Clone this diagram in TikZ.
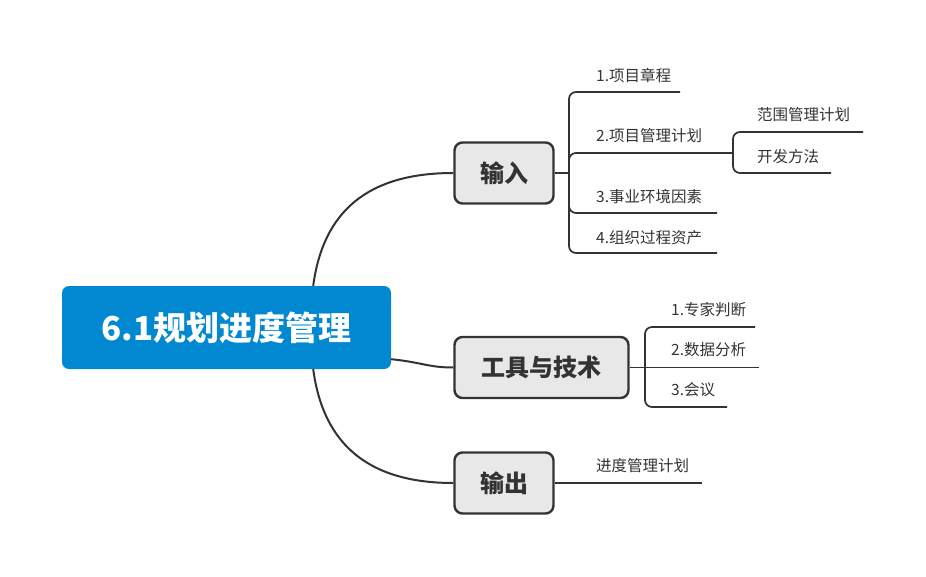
\documentclass[tikz,border=0pt]{standalone}
\usepackage{fontspec}
\setmainfont{Noto Sans CJK SC}
\usetikzlibrary{calc}
\definecolor{rootblue}{RGB}{2,136,209}
\definecolor{linec}{RGB}{51,51,51}
\definecolor{boxfill}{RGB}{232,232,232}
\definecolor{txt}{RGB}{51,51,51}
\begin{document}
\begin{tikzpicture}[x=1pt,y=-1pt,
  conn/.style={draw=linec, line width=2pt},
  leafline/.style={draw=linec, line width=1.7pt, rounded corners=7pt},
  rootbox/.style={fill=rootblue, rounded corners=7pt, minimum width=329pt, minimum height=83pt, inner sep=0pt, text=white, font=\fontsize{33}{36}\selectfont\bfseries},
  branch/.style={draw=linec, line width=2.4pt, fill=boxfill, rounded corners=8pt, minimum height=61pt, inner sep=0pt, text=txt, font=\fontsize{24}{28}\selectfont\bfseries},
  leaf/.style={anchor=west, inner sep=0pt, text=txt, font=\fontsize{15.5}{18}\selectfont}
]
\useasboundingbox (0,0) rectangle (926,576);

% nodes
\node[rootbox] (root) at (226.5,327.5) {6.1规划进度管理};
\node[branch, minimum width=99pt] (in) at (504,173) {输入};
\node[branch, minimum width=174pt] (tools) at (541.5,367.5) {工具与技术};
\node[branch, minimum width=99pt] (out) at (504,483) {输出};

% leaf texts
\node[leaf] (i1) at (596,75) {1.项目章程};
\node[leaf] (i2) at (596,136) {2.项目管理计划};
\node[leaf] (i2a) at (757,115) {范围管理计划};
\node[leaf] (i2b) at (757,157) {开发方法};
\node[leaf] (i3) at (596,197) {3.事业环境因素};
\node[leaf] (i4) at (596,238) {4.组织过程资产};
\node[leaf] (t1) at (671,310) {1.专家判断};
\node[leaf] (t2) at (671,350) {2.数据分析};
\node[leaf] (t3) at (671,390) {3.会议};
\node[leaf] (o1) at (596,466) {进度管理计划};

% junction and end coordinates
\coordinate (jin) at (569,173);
\coordinate (ji2) at (733,153);
\coordinate (jt) at (645,367.5);
\coordinate (ei1) at (680,92);
\coordinate (ei2a) at (863,132);
\coordinate (ei2b) at (831,173);
\coordinate (ei3) at (717,213);
\coordinate (ei4) at (717,253);
\coordinate (et1) at (755,327);
\coordinate (et2) at (759,367.5);
\coordinate (et3) at (727,407);
\coordinate (eo1) at (702,483);

% main connectors
\draw[conn] ($(root.north east)+(-78,0)$) .. controls +(10,-75) and +(-85,0) .. (in.west);
\draw[conn] ($(root.south east)+(-78,0)$) .. controls +(10,75) and +(-85,0) .. (out.west);
\draw[conn] ($(root.south east)+(0,-10)$) .. controls +(30,3) and +(-25,0) .. (tools.west);

% input leaves
\draw[leafline] (in.east) -- (jin);
\draw[leafline] (jin) |- (ei1);
\draw[leafline] (jin) |- (ji2);
\draw[leafline] (jin) |- (ei3);
\draw[leafline] (jin) |- (ei4);
\draw[leafline] (ji2) |- (ei2a);
\draw[leafline] (ji2) |- (ei2b);

% tools leaves
\draw[leafline] (tools.east) -- (jt);
\draw[leafline] (jt) |- (et1);
\draw[leafline] (jt) -- (et2);
\draw[leafline] (jt) |- (et3);

% output leaf
\draw[leafline] (out.east) -- (eo1);
\end{tikzpicture}
\end{document}
